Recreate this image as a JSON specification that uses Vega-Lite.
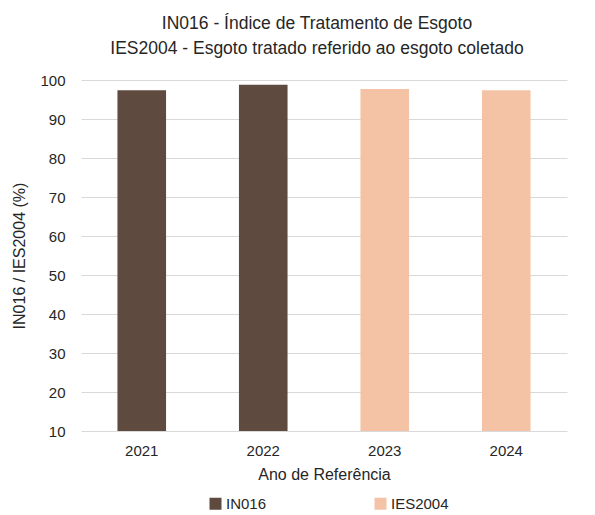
{
  "$schema": "https://vega.github.io/schema/vega-lite/v6.json",
  "width": 486,
  "height": 351,
  "autosize": "none",
  "padding": {"left": 81, "top": 80, "right": 28, "bottom": 84},
  "background": "white",
  "title": {
    "text": ["IN016 - Índice de Tratamento de Esgoto", "IES2004 - Esgoto tratado referido ao esgoto coletado"],
    "font": "Liberation Sans",
    "fontSize": 17.5,
    "fontWeight": "normal",
    "color": "#262626",
    "lineHeight": 25,
    "anchor": "middle",
    "dx": -7,
    "offset": 16
  },
  "data": {
    "values": [
      {"ano": "2021", "valor": 97.4, "serie": "IN016"},
      {"ano": "2022", "valor": 98.8, "serie": "IN016"},
      {"ano": "2023", "valor": 97.7, "serie": "IES2004"},
      {"ano": "2024", "valor": 97.4, "serie": "IES2004"}
    ]
  },
  "mark": {"type": "bar"},
  "encoding": {
    "x": {
      "field": "ano",
      "type": "nominal",
      "scale": {"paddingInner": 0.6, "paddingOuter": 0.3},
      "axis": {
        "title": "Ano de Referência",
        "labelAngle": 0,
        "labelFont": "Liberation Sans",
        "labelFontSize": 15,
        "labelColor": "#262626",
        "labelPadding": 12,
        "titleFont": "Liberation Sans",
        "titleFontSize": 16,
        "titleFontWeight": "normal",
        "titleColor": "#262626",
        "titlePadding": 8,
        "domain": false,
        "ticks": false
      }
    },
    "y": {
      "field": "valor",
      "type": "quantitative",
      "scale": {"domain": [10, 100], "nice": false, "zero": false},
      "axis": {
        "title": "IN016 / IES2004 (%)",
        "values": [10, 20, 30, 40, 50, 60, 70, 80, 90, 100],
        "labelFont": "Liberation Sans",
        "labelFontSize": 15,
        "labelColor": "#262626",
        "labelPadding": 16,
        "titleFont": "Liberation Sans",
        "titleFontSize": 16,
        "titleFontWeight": "normal",
        "titleColor": "#262626",
        "titlePadding": 12,
        "domain": false,
        "ticks": false,
        "grid": true,
        "gridColor": "#D9D9D9",
        "gridWidth": 1
      }
    },
    "y2": {"datum": 10},
    "color": {
      "field": "serie",
      "type": "nominal",
      "scale": {"domain": ["IN016", "IES2004"], "range": ["#5E4A3E", "#F4C3A6"]},
      "legend": {
        "title": null,
        "orient": "none",
        "legendX": 127,
        "legendY": 416,
        "direction": "horizontal",
        "symbolType": "square",
        "symbolSize": 144,
        "symbolStrokeWidth": 0,
        "labelFont": "Liberation Sans",
        "labelFontSize": 15,
        "labelColor": "#262626",
        "labelOffset": 3,
        "columnPadding": 106
      }
    }
  },
  "config": {"view": {"stroke": null}}
}
